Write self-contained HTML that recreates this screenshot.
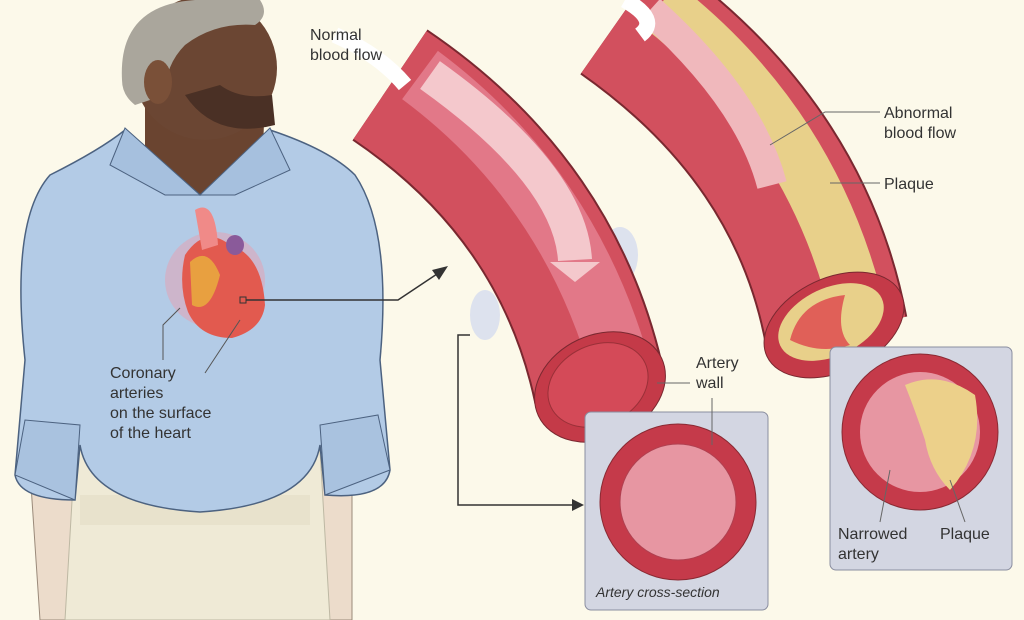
<!DOCTYPE html>
<html><head><style>
html,body{margin:0;padding:0;background:#fcf9ea;}
svg{display:block}
text{font-family:"Liberation Sans",sans-serif;fill:#333;}
</style></head><body>
<svg width="1024" height="620" viewBox="0 0 1024 620">
<rect width="1024" height="620" fill="#fcf9ea"/>
<!-- arms/hands -->
<path d="M30,470 L75,475 L80,620 L40,620 Z" fill="#ecdccb" stroke="#9a8a7a" stroke-width="1"/>
<path d="M318,470 L352,470 L352,620 L325,620 Z" fill="#ecdccb" stroke="#9a8a7a" stroke-width="1"/>
<!-- pants -->
<path d="M75,450 L320,450 L330,620 L65,620 Z" fill="#efead6" stroke="#bdb8a3"/>
<rect x="80" y="495" width="230" height="30" fill="#e8e2cc"/>
<!-- neck/head -->
<path d="M145,90 L265,90 L262,185 L200,200 L145,170 Z" fill="#6a4430"/>
<ellipse cx="205" cy="68" rx="72" ry="72" fill="#6b4633"/>
<path d="M122,80 Q118,5 195,0 L260,0 Q270,15 255,25 Q215,22 185,45 Q165,65 165,95 L135,105 Q122,95 122,80 Z" fill="#aaa69c"/>
<ellipse cx="158" cy="82" rx="14" ry="22" fill="#7a5038"/>
<path d="M185,95 Q215,140 275,125 L272,95 Q240,100 220,85 Z" fill="#4a3025"/>
<!-- shirt -->
<path d="M50,175 Q100,150 125,130 L200,195 L270,130 Q330,150 355,175 Q392,230 380,360 L390,470 Q385,500 325,495 L320,445 Q310,505 200,512 Q90,505 80,445 L75,500 Q20,500 15,475 L25,360 Q10,220 50,175 Z" fill="#b3cbe6" stroke="#4c6280" stroke-width="1.5"/>
<path d="M110,165 L125,128 L200,195 L165,195 Z M270,128 L290,170 L235,195 L200,195 Z" fill="#a6c0de" stroke="#4c6280" stroke-width="1"/>
<path d="M15,475 L25,420 L80,425 L75,500 Z" fill="#a9c2df" stroke="#4c6280"/>
<path d="M390,470 L378,415 L320,425 L325,495 Z" fill="#a9c2df" stroke="#4c6280"/>
<!-- heart -->
<ellipse cx="215" cy="280" rx="50" ry="48" fill="#e8a0b0" opacity="0.5"/>
<path d="M185,255 Q205,225 230,245 Q262,255 265,305 Q262,330 232,338 Q200,338 188,312 Q178,285 185,255 Z" fill="#e25a4f"/>
<path d="M190,262 Q208,245 220,275 Q210,315 192,305 Z" fill="#e8a040"/>
<path d="M195,210 Q215,198 218,245 L202,250 Z" fill="#f08a88"/>
<ellipse cx="235" cy="245" rx="9" ry="10" fill="#8a5a9a"/>
<!-- labels man -->
<text x="110" y="378" font-size="16">Coronary</text>
<text x="110" y="398" font-size="16">arteries</text>
<text x="110" y="418" font-size="16">on the surface</text>
<text x="110" y="438" font-size="16">of the heart</text>
<path d="M163,360 L163,325 L180,308" stroke="#555" fill="none" stroke-width="1"/>
<path d="M205,373 L240,320" stroke="#555" fill="none" stroke-width="1"/>
<!-- connector -->
<rect x="240" y="297" width="6" height="6" fill="none" stroke="#333"/>
<path d="M246,300 L398,300 L440,272" stroke="#333" fill="none" stroke-width="1.5"/>
<path d="M448,266 L432,270 L439,280 Z" fill="#333"/>
<path d="M470,335 L458,335 L458,505 L580,505" stroke="#333" fill="none" stroke-width="1.5"/>
<path d="M584,505 L572,499 L572,511 Z" fill="#333"/>
<!-- artery 1 -->
<ellipse cx="620" cy="255" rx="18" ry="28" fill="#dde2ee"/>
<ellipse cx="485" cy="315" rx="15" ry="25" fill="#dde2ee"/>
<path d="M390,85 Q560,200 600,390" stroke="#7a2830" stroke-width="134" fill="none"/>
<path d="M390,85 Q560,200 600,390" stroke="#d2505e" stroke-width="130" fill="none"/>
<path d="M420,75 Q575,190 625,385" stroke="#e27888" stroke-width="60" fill="none"/>
<path d="M430,75 Q570,175 575,260" stroke="#f4c8cc" stroke-width="34" fill="none"/>
<path d="M550,262 L600,262 L575,282 Z" fill="#f4c8cc"/>
<ellipse cx="600" cy="387" rx="68" ry="52" transform="rotate(-25 600 387)" fill="#c43a48" stroke="#7a2830"/>
<ellipse cx="598" cy="385" rx="52" ry="40" transform="rotate(-25 598 385)" fill="#d44a58" stroke="#9a3038"/>
<path d="M335,35 Q380,55 405,85" stroke="#fff" stroke-width="16" fill="none"/>
<text x="310" y="40" font-size="16">Normal</text>
<text x="310" y="60" font-size="16">blood flow</text>
<text x="696" y="368" font-size="16">Artery</text>
<text x="696" y="388" font-size="16">wall</text>
<path d="M657,383 L690,383" stroke="#666" stroke-width="1"/>
<!-- artery 2 -->
<path d="M622,15 Q800,140 836,330" stroke="#7a2830" stroke-width="145" fill="none"/>
<path d="M622,15 Q800,140 836,330" stroke="#d2505e" stroke-width="141" fill="none"/>
<path d="M660,5 Q820,130 862,330" stroke="#e8d08a" stroke-width="55" fill="none"/>
<path d="M650,10 Q750,100 772,185" stroke="#f0b8bc" stroke-width="30" fill="none"/>
<path d="M625,0 Q660,20 640,35" stroke="#fff" stroke-width="16" fill="none"/>
<ellipse cx="834" cy="325" rx="74" ry="47" transform="rotate(-25 834 325)" fill="#c43a48" stroke="#7a2830"/>
<ellipse cx="831" cy="322" rx="56" ry="34" transform="rotate(-25 831 322)" fill="#e8d08a"/>
<path d="M790,340 Q800,300 845,295 Q835,330 850,345 Q820,355 790,340 Z" fill="#e06058"/>
<text x="884" y="118" font-size="16">Abnormal</text>
<text x="884" y="138" font-size="16">blood flow</text>
<text x="884" y="189" font-size="16">Plaque</text>
<path d="M770,145 L825,112 L880,112" stroke="#666" fill="none" stroke-width="1"/>
<path d="M830,183 L880,183" stroke="#666" stroke-width="1"/>
<!-- box 1 -->
<rect x="585" y="412" width="183" height="198" rx="6" fill="#d3d6e2" stroke="#8a8ea0"/>
<circle cx="678" cy="502" r="78" fill="#c53a4a" stroke="#8a2a33"/>
<circle cx="678" cy="502" r="58" fill="#e796a2" stroke="#b04050"/>
<path d="M712,398 L712,445" stroke="#666" stroke-width="1"/>
<text x="596" y="597" font-size="14" font-style="italic">Artery cross-section</text>
<!-- box 2 -->
<rect x="830" y="347" width="182" height="223" rx="6" fill="#d3d6e2" stroke="#8a8ea0"/>
<circle cx="920" cy="432" r="78" fill="#c53a4a" stroke="#8a2a33"/>
<circle cx="920" cy="432" r="60" fill="#e796a2"/>
<path d="M905,385 Q940,370 975,395 Q985,450 950,490 Q930,470 925,440 Q915,410 905,385 Z" fill="#ecd08a"/>
<text x="838" y="539" font-size="16">Narrowed</text>
<text x="838" y="559" font-size="16">artery</text>
<text x="940" y="539" font-size="16">Plaque</text>
<path d="M880,522 L890,470" stroke="#666" stroke-width="1"/>
<path d="M965,522 L950,480" stroke="#666" stroke-width="1"/>
</svg>
</body></html>
